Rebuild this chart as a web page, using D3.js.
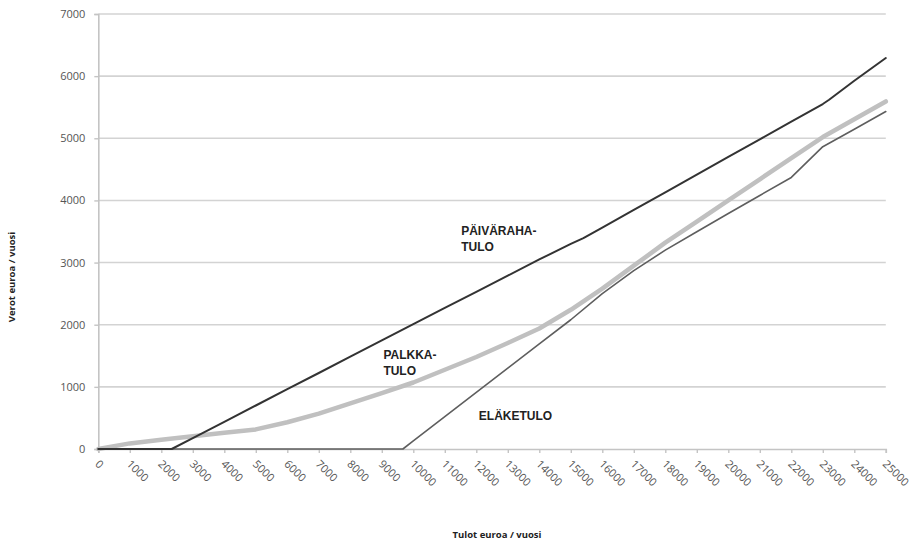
<!DOCTYPE html>
<html><head><meta charset="utf-8">
<script src="https://cdn.jsdelivr.net/npm/d3@7"></script>
<style>
html,body{margin:0;padding:0;background:#fff;}
svg{display:block;}
</style>
</head><body>
<svg id="chart" width="912" height="540"></svg>
<script>
// ---- data ----
const incomeTicks = [0,1000,2000,3000,4000,5000,6000,7000,8000,9000,10000,11000,12000,13000,14000,15000,16000,17000,18000,19000,20000,21000,22000,23000,24000,25000];
const taxTicks = [0,1000,2000,3000,4000,5000,6000,7000];

const paivarahaIncome = [0,1000,2000,2330,3000,4000,5000,6000,7000,8000,9000,10000,11000,12000,13000,14000,15000,15400,16000,17000,18000,19000,20000,21000,22000,23000,23200,24000,25000];
const paivarahaTax    = [0,0,0,0,176,438,700,962,1223,1486,1748,2010,2270,2530,2790,3050,3300,3393,3563,3847,4131,4415,4699,4983,5267,5551,5620,5925,6291];

const palkkaIncome = [0,1000,2000,3000,4000,5000,6000,7000,8000,9000,10000,11000,12000,13000,14000,15000,16000,17000,18000,19000,20000,21000,22000,23000,24000,25000];
const palkkaTax    = [0,90,150,205,260,315,430,570,735,900,1070,1275,1480,1705,1940,2240,2580,2950,3320,3660,4000,4340,4680,5020,5305,5593];

const elakeIncome = [0,1000,2000,3000,4000,5000,6000,7000,8000,9000,9670,10000,11000,12000,13000,14000,15000,16000,17000,18000,19000,20000,21000,22000,23000,24000,25000];
const elakeTax    = [0,0,0,0,0,0,0,0,0,0,0,130,520,910,1300,1690,2080,2500,2870,3200,3495,3790,4080,4370,4865,5145,5430];

const seriesLabels = [
  {lines:["PÄIVÄRAHA-","TULO"], income:11520, tax:3450},
  {lines:["PALKKA-","TULO"], income:9050, tax:1450},
  {lines:["ELÄKETULO"], income:12080, tax:470}
];

const xTitle = "Tulot euroa / vuosi";
const yTitle = "Verot euroa / vuosi";

// ---- drawing ----
const svg = d3.select("#chart");
const x = d3.scaleLinear().domain([0,25000]).range([98.3,885.8]);
const y = d3.scaleLinear().domain([0,7000]).range([449,14]);

// gridlines
svg.append("g").selectAll("line").data(taxTicks.filter(d=>d>0)).join("line")
  .attr("x1",x(0)).attr("x2",x(25000))
  .attr("y1",d=>y(d)).attr("y2",d=>y(d))
  .attr("stroke","#d3d3d3").attr("stroke-width",1.6);

// y axis
const yAxis = svg.append("g").attr("transform",`translate(${x(0)},0)`)
  .call(d3.axisLeft(y).tickValues(taxTicks).tickSize(4).tickPadding(9).tickFormat(d=>d));
yAxis.select(".domain").attr("stroke","#c4c4c4").attr("stroke-width",1.6);
yAxis.selectAll(".tick line").attr("stroke","#c4c4c4").attr("stroke-width",1.4);
yAxis.selectAll("text").attr("font-family","'Open Sans', sans-serif").attr("font-size","11px").attr("fill","#555");

// x axis
const xAxis = svg.append("g").attr("transform",`translate(0,${y(0)})`)
  .call(d3.axisBottom(x).tickValues(incomeTicks).tickSize(4).tickFormat(""));
xAxis.select(".domain").attr("stroke","#c4c4c4").attr("stroke-width",1.6);
xAxis.selectAll(".tick line").attr("stroke","#c4c4c4").attr("stroke-width",1.4);

svg.append("g").selectAll("text").data(incomeTicks).join("text")
  .attr("transform",d=>`translate(${x(d)-1},${y(0)+13}) rotate(45)`)
  .attr("dy","0.35em")
  .attr("font-family","'Open Sans', sans-serif").attr("font-size","11px").attr("fill","#555")
  .text(d=>d);

// lines
const line = d3.line().x(d=>x(d[0])).y(d=>y(d[1]));
function draw(inc, tax, color, w){
  svg.append("path").datum(inc.map((v,i)=>[v,tax[i]]))
    .attr("d",line).attr("fill","none").attr("stroke",color).attr("stroke-width",w)
    .attr("stroke-linejoin","round").attr("stroke-linecap","round");
}
draw(palkkaIncome, palkkaTax, "#c0c0c0", 4.5);
draw(elakeIncome, elakeTax, "#5e5e5e", 1.6);
draw(paivarahaIncome, paivarahaTax, "#333333", 2);

// labels
seriesLabels.forEach(l=>{
  const t = svg.append("text").attr("font-family","'Liberation Sans', Arial, sans-serif")
    .attr("font-weight","bold").attr("font-size","12px").attr("fill","#222");
  l.lines.forEach((s,i)=>{
    t.append("tspan").attr("x",x(l.income)).attr("y",y(l.tax)+i*16).text(s);
  });
});

// axis titles
svg.append("text").attr("x",497).attr("y",538).attr("text-anchor","middle")
  .attr("font-family","'Open Sans', sans-serif").attr("font-weight","bold").attr("font-size","9.5px").attr("fill","#222")
  .text(xTitle);
svg.append("text").attr("transform","translate(15,277) rotate(-90)").attr("text-anchor","middle")
  .attr("font-family","'Open Sans', sans-serif").attr("font-weight","bold").attr("font-size","9.5px").attr("fill","#222")
  .text(yTitle);
</script>
</body></html>
